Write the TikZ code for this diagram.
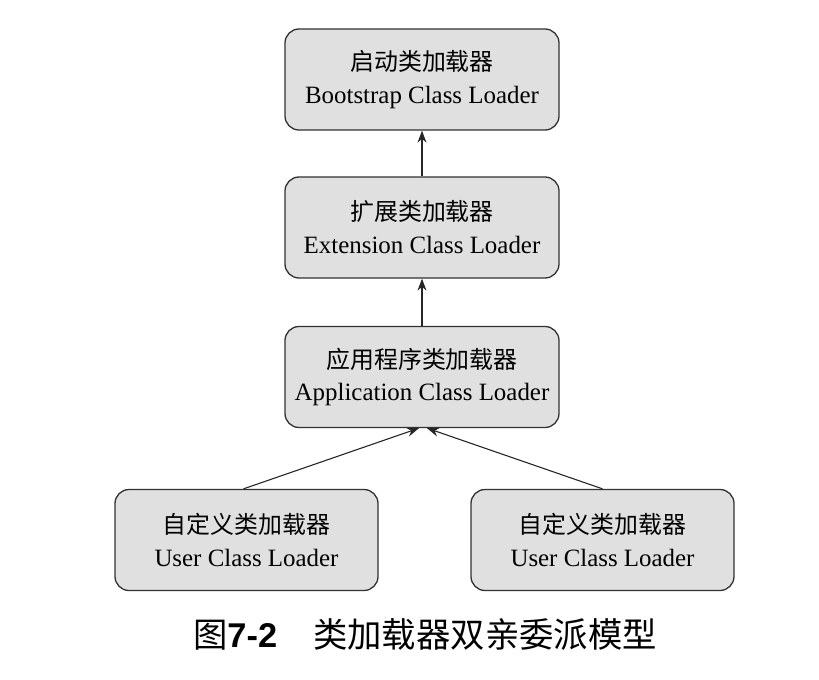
\documentclass[tikz,border=0pt]{standalone}
\usepackage{fontspec}
\setmainfont{Liberation Serif}
\setsansfont{Liberation Sans}
\newfontfamily\cjk{Noto Sans CJK SC}
\usetikzlibrary{arrows.meta}
\definecolor{boxfill}{RGB}{224,224,224}
\definecolor{boxline}{RGB}{50,50,50}
\tikzset{
  loader/.style={draw=boxline, fill=boxfill, line width=1.3bp, rounded corners=14bp,
    minimum height=101bp, align=center, inner sep=0pt,
    font=\fontsize{25}{33}\selectfont},
  wide/.style={loader, minimum width=274bp},
  narrow/.style={loader, minimum width=263bp},
  link/.style={draw=black!85, line width=1.1bp, -{Stealth[length=12bp,width=9bp]}}
}
\begin{document}
\begin{tikzpicture}[x=1bp,y=-1bp]
\useasboundingbox (0,0) rectangle (819,680);
\node[wide] (boot) at (422,79.5) {{\cjk\fontsize{24}{33}\selectfont 启动类加载器}\\Bootstrap Class Loader};
\node[wide] (ext) at (422,227.5) {{\cjk\fontsize{24}{33}\selectfont 扩展类加载器}\\Extension Class Loader};
\node[wide] (app) at (422,377) {{\cjk\fontsize{24}{33}\selectfont 应用程序类加载器}\\Application Class Loader};
\node[narrow] (userl) at (246.5,540) {{\cjk\fontsize{24}{33}\selectfont 自定义类加载器}\\User Class Loader};
\node[narrow] (userr) at (602.5,540) {{\cjk\fontsize{24}{33}\selectfont 自定义类加载器}\\User Class Loader};
\coordinate (appl) at ([xshift=-3bp]app.south);
\coordinate (appr) at ([xshift=5bp]app.south);
\draw[link] (ext) -- (boot);
\draw[link] (app) -- (ext);
\draw[link] ([xshift=-3bp]userl.north) -- (appl);
\draw[link] (userr.north) -- (appr);
\node[font=\fontsize{34.5}{40}\selectfont] (cap) at (425,635)
  {{\cjk 图}{\sffamily\bfseries 7-2}\hspace{36bp}{\cjk 类加载器双亲委派模型}};
\end{tikzpicture}
\end{document}
